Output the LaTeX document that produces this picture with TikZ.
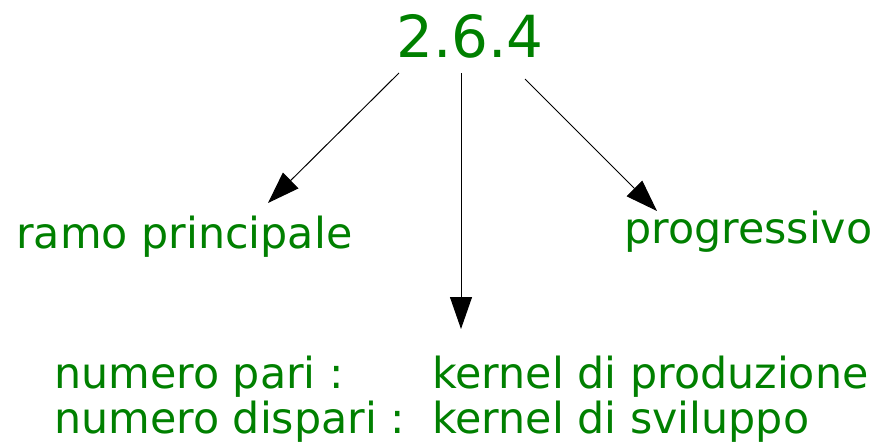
\documentclass[tikz,border=0pt]{standalone}
\usepackage{fontspec}
\setmainfont{DejaVu Sans}
\usetikzlibrary{arrows.meta}
\definecolor{lblgreen}{RGB}{0,128,0}
\begin{document}
\begin{tikzpicture}[x=1pt,y=-1pt,
  lbl/.style={inner sep=0pt,anchor=base west,text=lblgreen,font=\fontsize{42.8}{50}\selectfont},
  conn/.style={line width=1pt,-{Triangle[length=32pt,width=22pt]}}]
\useasboundingbox (0,0) rectangle (876,445);
\node[inner sep=0pt,anchor=base,text=lblgreen,font=\fontsize{58}{70}\selectfont] (ver) at (470,57) {2.6.4};
\node[lbl] (ramo) at (16,248) {ramo principale};
\node[lbl] (prog) at (624,243) {progressivo};
\node[lbl] (npari) at (54,388) {numero pari :};
\node[lbl] (ndisp) at (54,433) {numero dispari :};
\node[lbl] (kprod) at (432,388) {kernel di produzione};
\node[lbl] (ksvil) at (432,433) {kernel di sviluppo};
\coordinate (s1) at (399,73);
\coordinate (e1) at (268,203);
\coordinate (s2) at (461,73);
\coordinate (e2) at (461,329);
\coordinate (s3) at (525,79);
\coordinate (e3) at (657,211);
\draw[conn] (s1) -- (e1);
\draw[conn] (s2) -- (e2);
\draw[conn] (s3) -- (e3);
\end{tikzpicture}
\end{document}
